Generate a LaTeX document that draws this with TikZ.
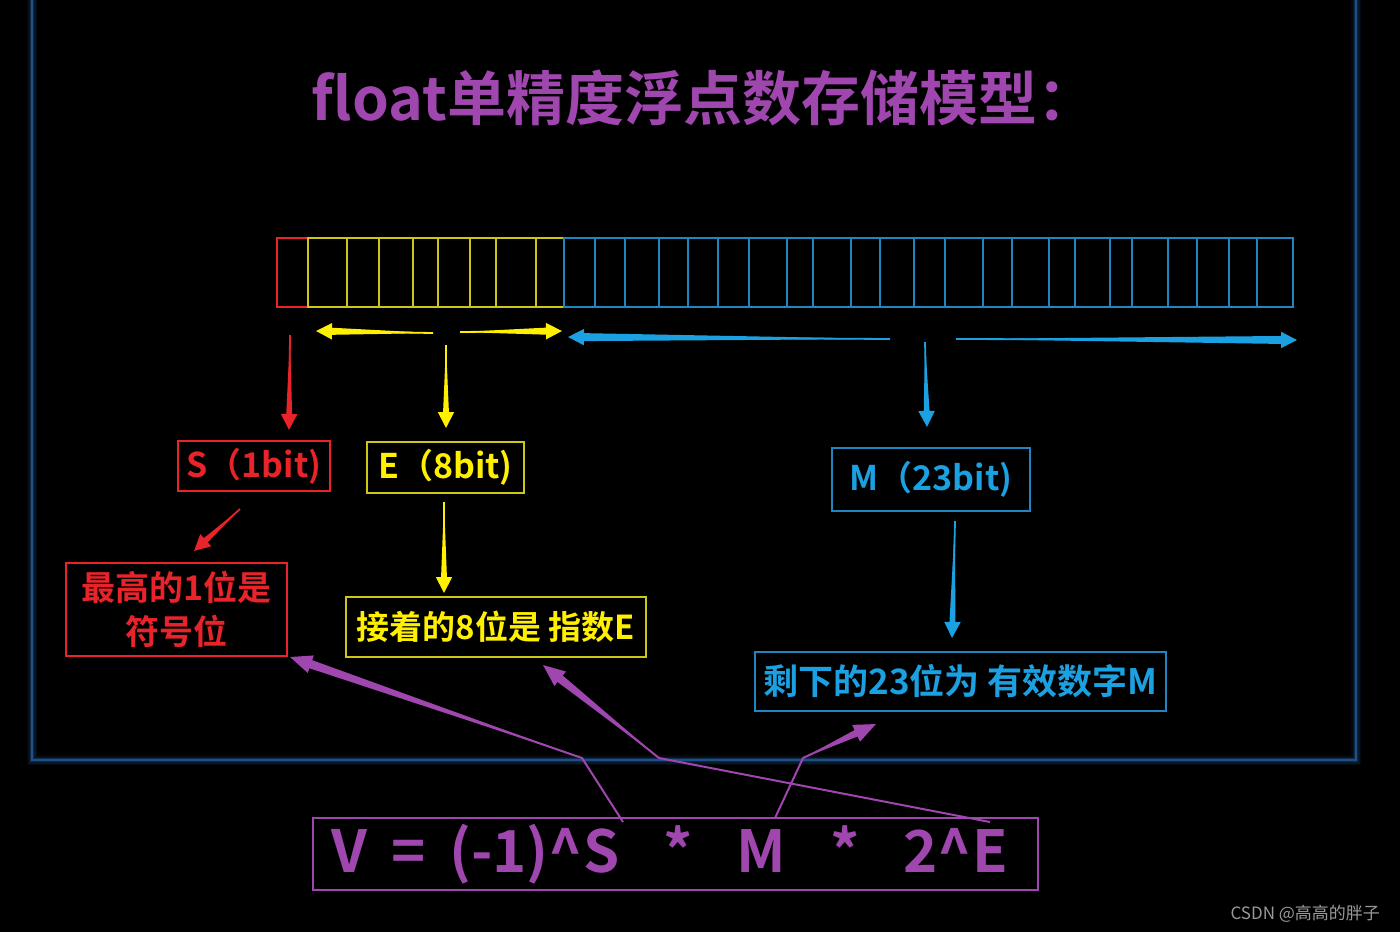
\documentclass[tikz,border=0pt]{standalone}
\usepackage{fontspec}
\setmainfont{Noto Sans CJK SC}[BoldFont={Noto Sans CJK SC Bold}]
\usetikzlibrary{arrows.meta,calc}
\definecolor{pp}{RGB}{160,70,175}
\definecolor{rd}{RGB}{232,35,42}
\definecolor{yl}{RGB}{255,240,0}
\definecolor{ylbox}{RGB}{205,198,20}
\definecolor{bl}{RGB}{27,161,226}
\definecolor{blbox}{RGB}{30,135,195}
\definecolor{framec}{RGB}{30,80,135}
\tikzset{
  lbox/.style={draw=#1, text=#1, line width=0.6pt, inner sep=0pt, font=\bfseries},
  arr/.style={draw=#1, line width=0.9pt, -{Triangle[length=8pt,width=8pt]}},
  parr/.style={draw=pp, line width=1pt, -{Triangle[length=11pt,width=9pt]}},
}
% tapered body under an arrow: colour, from, to, half width at the head
\newcommand\myTaper[4]{%
  \coordinate (tq) at ($(#3)!7pt!(#2)$);
  \fill[#1] (#2) -- ($(tq)!#4!90:(#3)$) -- ($(tq)!#4!-90:(#3)$) -- cycle;
}
\begin{document}
\begin{tikzpicture}[x=0.5pt,y=-0.5pt]
\useasboundingbox (0,0) rectangle (1400,932);
\fill[black] (0,0) rectangle (1400,932);
% frame with soft glow
\foreach \w/\o in {5pt/0.12,3.5pt/0.2,2.2pt/0.35}
  \draw[framec, line width=\w, opacity=\o] (32,0) -- (32,760) -- (1356,760) -- (1356,0);
\draw[framec, line width=1pt] (32,0) -- (32,760) -- (1356,760) -- (1356,0);
% title
\node[text=pp, font=\bfseries\fontsize{29.5}{34}\selectfont] (title) at (704,98) {float单精度浮点数存储模型：};
% bit cells
\draw[rd, line width=0.8pt] (277,238) rectangle (308,307);
\foreach \a/\b in {308/347,347/379,379/413,413/438,438/470,470/496,496/536,536/564}
  \draw[ylbox, line width=0.8pt] (\a,238) rectangle (\b,307);
\foreach \a/\b in {564/595,595/625,625/659,659/688,688/718,718/749,749/787,787/813,813/851,851/880,880/914,914/945,945/983,983/1012,1012/1049,1049/1075,1075/1110,1110/1132,1132/1168,1168/1197,1197/1229,1229/1257,1257/1293}
  \draw[blbox, line width=0.8pt] (\a,238) rectangle (\b,307);
% boxes
\node[lbox=rd, minimum width=76pt, minimum height=25pt, font=\bfseries\fontsize{17}{20}\selectfont] (S) at (254,466) {S（1bit)};
\node[lbox=yl, draw=ylbox, minimum width=78.5pt, minimum height=25.5pt, font=\bfseries\fontsize{17}{20}\selectfont] (E) at (445.5,467.5) {E（8bit)};
\node[lbox=bl, draw=blbox, minimum width=99pt, minimum height=31.5pt, font=\bfseries\fontsize{17}{20}\selectfont] (M) at (931,479.5) {M（23bit)};
\node[lbox=rd, minimum width=110.5pt, minimum height=46.5pt, align=center, font=\bfseries\fontsize{17}{22}\selectfont] (S2) at (176.5,609.5) {最高的1位是\\符号位};
\node[lbox=yl, draw=ylbox, minimum width=150pt, minimum height=30pt, font=\bfseries\fontsize{16.5}{20}\selectfont] (E2) at (496,627) {接着的8位是 指数E};
\node[lbox=bl, draw=blbox, minimum width=205.5pt, minimum height=29.5pt, font=\bfseries\fontsize{17.5}{20}\selectfont] (M2) at (960.5,681.5) {剩下的23位为 有效数字M};
\node[lbox=pp, minimum width=362.5pt, minimum height=36pt, font=\bfseries\fontsize{29}{32}\selectfont] (F) at (675.5,854)
  {\hspace{-6pt}V\hspace{12pt}=\hspace{12pt}(-1)\textasciicircum S\hspace{22pt}*\hspace{22pt}M\hspace{22pt}*\hspace{22pt}2\textasciicircum E};
% watermark
\node[text=gray!80, font=\fontsize{8.5}{10}\selectfont, anchor=east] (wm) at (1387,914) {CSDN @高高的胖子};
% coordinates
\coordinate (sa) at (290,335);
\coordinate (sb) at (289,430);
\coordinate (ya1) at (433,333);
\coordinate (ya2) at (316,331);
\coordinate (yb1) at (460,332);
\coordinate (yb2) at (562,331);
\coordinate (yc1) at (446,345);
\coordinate (yc2) at (446,428);
\coordinate (ba1) at (890,339);
\coordinate (ba2) at (568,337);
\coordinate (bb1) at (956,339);
\coordinate (bb2) at (1297,340);
\coordinate (bc1) at (925,342);
\coordinate (bc2) at (927,427);
\coordinate (sd1) at (240,509);
\coordinate (sd2) at (194,551);
\coordinate (ed1) at (444,502);
\coordinate (ed2) at (444,593);
\coordinate (md1) at (955,521);
\coordinate (md2) at (952,638);
\coordinate (p1a) at (623,822);
\coordinate (p1b) at (582,758);
\coordinate (p1c) at (290,657);
\coordinate (p2a) at (990,822);
\coordinate (p2b) at (659,758);
\coordinate (p2c) at (543,665);
\coordinate (p3a) at (775,818);
\coordinate (p3b) at (803,758);
\coordinate (p3c) at (876,724);
% tapered bodies
\myTaper{rd}{sa}{sb}{1.5pt}
\myTaper{yl}{ya1}{ya2}{1.8pt}
\myTaper{yl}{yb1}{yb2}{1.8pt}
\myTaper{yl}{yc1}{yc2}{1.5pt}
\myTaper{bl}{ba1}{ba2}{2pt}
\myTaper{bl}{bb1}{bb2}{2pt}
\myTaper{bl}{bc1}{bc2}{1.5pt}
\myTaper{rd}{sd1}{sd2}{1.5pt}
\myTaper{yl}{ed1}{ed2}{1.5pt}
\myTaper{bl}{md1}{md2}{1.5pt}
\myTaper{pp}{p1b}{p1c}{2.2pt}
\myTaper{pp}{p2b}{p2c}{2.2pt}
\myTaper{pp}{p3b}{p3c}{2pt}
% arrows
\draw[arr=rd] (sa) -- (sb);
\draw[arr=yl] (ya1) -- (ya2);
\draw[arr=yl] (yb1) -- (yb2);
\draw[arr=yl] (yc1) -- (yc2);
\draw[arr=bl] (ba1) -- (ba2);
\draw[arr=bl] (bb1) -- (bb2);
\draw[arr=bl] (bc1) -- (bc2);
\draw[arr=rd] (sd1) -- (sd2);
\draw[arr=yl] (ed1) -- (ed2);
\draw[arr=bl] (md1) -- (md2);
\draw[parr] (p1a) -- (p1b) -- (p1c);
\draw[parr] (p2a) -- (p2b) -- (p2c);
\draw[parr] (p3a) -- (p3b) -- (p3c);
\end{tikzpicture}
\end{document}
